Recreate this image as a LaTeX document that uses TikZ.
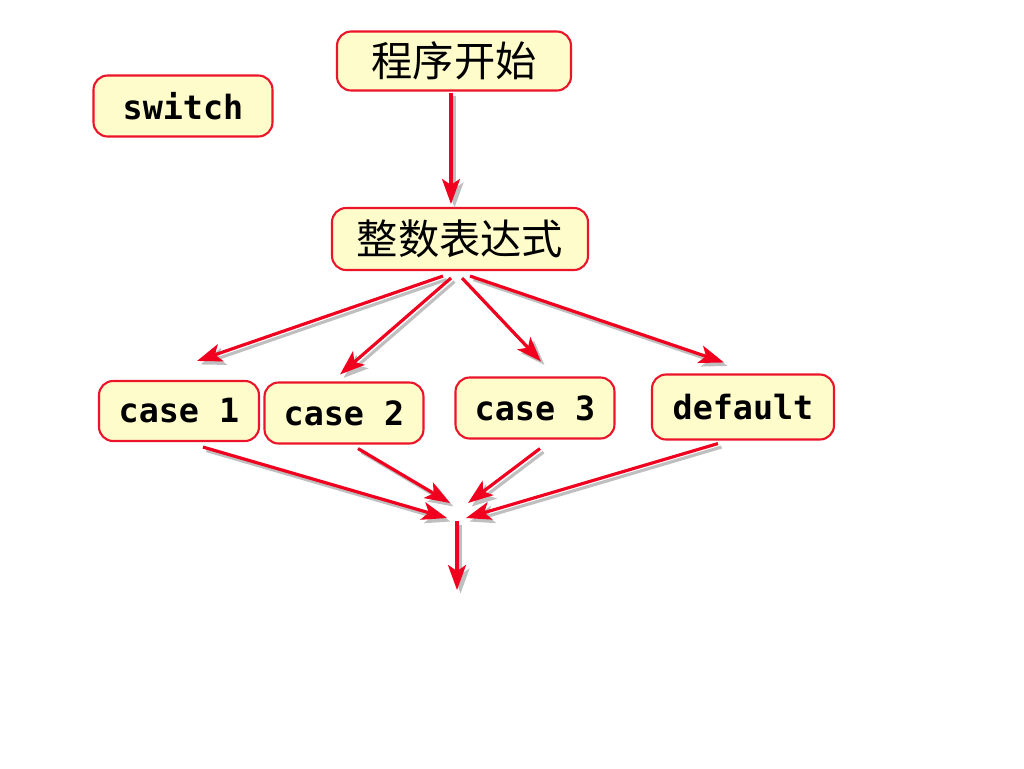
\documentclass[tikz,border=0pt]{standalone}
\usepackage{fontspec}
\newfontfamily\cjk{Noto Sans CJK SC}
\setmonofont{DejaVu Sans Mono}
\usetikzlibrary{arrows.meta,calc}
\definecolor{boxfill}{RGB}{255,252,204}
\definecolor{boxline}{RGB}{235,20,40}
\definecolor{arrowred}{RGB}{240,0,30}
\tikzset{
  box/.style={draw=boxline,fill=boxfill,line width=1.2pt,rounded corners=8pt,
    inner sep=0pt,align=center},
  cnbox/.style={box,font=\cjk\fontsize{23.5}{28}\selectfont},
  codebox/.style={box,font=\ttfamily\bfseries\fontsize{19}{23}\selectfont},
  flow/.style={draw=arrowred,line width=1.8pt,
    -{Stealth[length=0.5cm,width=0.36cm,inset=0.12cm]},
    preaction={draw=black!25,line width=1.8pt,
      -{Stealth[length=0.5cm,width=0.36cm,inset=0.12cm]},
      transform canvas={shift={(2pt,-2pt)}}}}
}
\begin{document}
\begin{tikzpicture}[x=0.02cm,y=-0.02cm]
  \useasboundingbox (0,0) rectangle (1024,768);
  % boxes
  \node[cnbox,minimum width=4.68cm,minimum height=1.18cm] (start) at (454,61) {程序开始};
  \node[codebox,minimum width=3.58cm,minimum height=1.22cm] (sw) at (183,106) {switch};
  \node[cnbox,minimum width=5.12cm,minimum height=1.24cm] (expr) at (460,239) {整数表达式};
  \node[codebox,minimum width=3.2cm,minimum height=1.2cm] (c1) at (179,411) {case 1};
  \node[codebox,minimum width=3.18cm,minimum height=1.22cm] (c2) at (344,413) {case 2};
  \node[codebox,minimum width=3.18cm,minimum height=1.22cm] (c3) at (535,408) {case 3};
  \node[codebox,minimum width=3.64cm,minimum height=1.3cm] (dflt) at (743,407) {default};
  \coordinate (merge) at (457,512);
  % arrows
  \draw[flow] ($(start.south)+(-3,1)$) -- ($(expr.north)+(-9,-3)$);
  \draw[flow] ($(expr.south)+(-17,5)$) -- ($(c1.north)+(18,-19)$);
  \draw[flow] ($(expr.south)+(-9,7)$) -- ($(c2.north)+(-4,-7)$);
  \draw[flow] ($(expr.south)+(2,7)$) -- ($(c3.north)+(6,-15)$);
  \draw[flow] ($(expr.south)+(10,5)$) -- ($(dflt.north)+(-19,-11)$);
  \draw[flow] ($(c1.south)+(24,5)$) -- ($(merge)+(-10,6)$);
  \draw[flow] ($(c2.south)+(14,4)$) -- ($(merge)+(-7,-9)$);
  \draw[flow] ($(c3.south)+(5,9)$) -- ($(merge)+(11,-9)$);
  \draw[flow] ($(dflt.south)+(-25,3)$) -- ($(merge)+(9,6)$);
  \draw[flow] ($(merge)+(0,9)$) -- ($(merge)+(0,78)$);
\end{tikzpicture}
\end{document}
